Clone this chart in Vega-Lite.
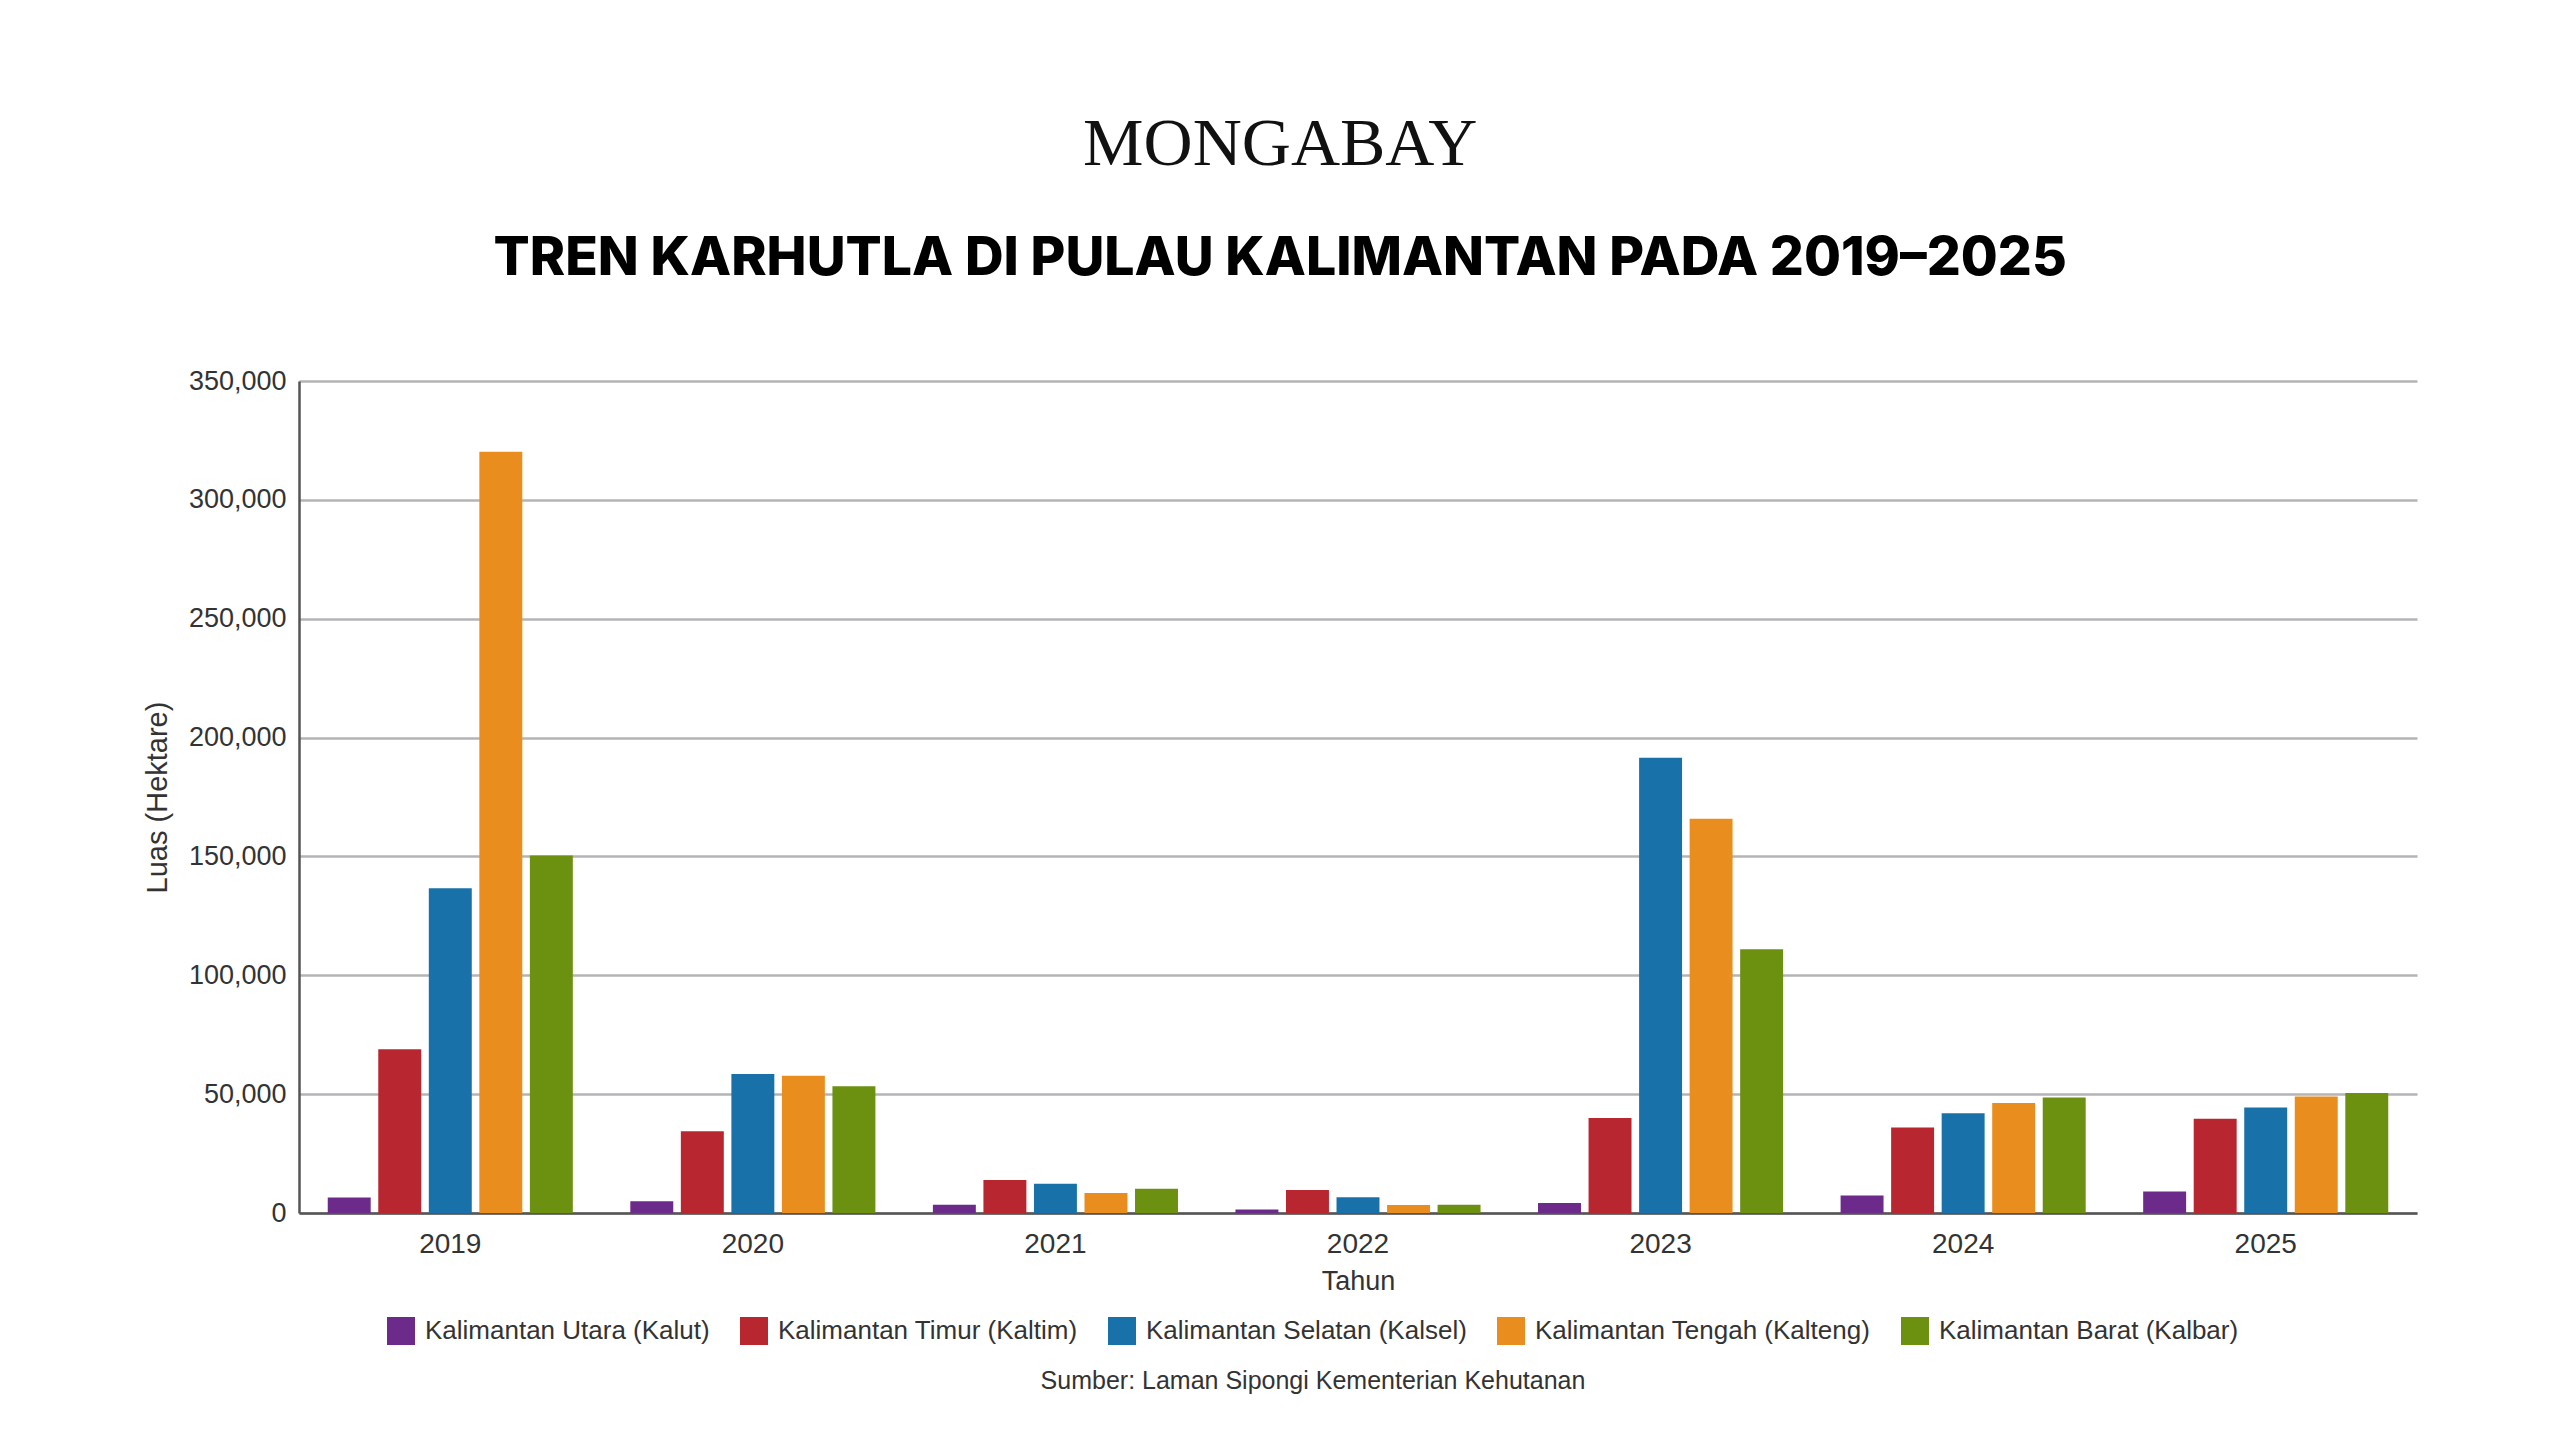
{
  "$schema": "https://vega.github.io/schema/vega-lite/v6.json",
  "background": "white",
  "autosize": {"type": "none"},
  "padding": {"left": 299, "top": 381, "right": 143, "bottom": 227},
  "width": 2118,
  "height": 832,
  "title": {
    "text": "MONGABAY",
    "subtitle": "TREN KARHUTLA DI PULAU KALIMANTAN PADA 2019–2025",
    "frame": "bounds",
    "anchor": "middle",
    "font": "Liberation Serif",
    "fontSize": 68,
    "fontWeight": "normal",
    "color": "#111111",
    "subtitleFont": "Inter",
    "subtitleFontSize": 53.5,
    "subtitleFontWeight": 800,
    "subtitleColor": "#000000",
    "subtitlePadding": 54,
    "offset": 82
  },
  "data": {
    "values": [
      {"year": "2019", "region": "Kalimantan Utara (Kalut)", "luas": 6500},
      {"year": "2019", "region": "Kalimantan Timur (Kaltim)", "luas": 68900},
      {"year": "2019", "region": "Kalimantan Selatan (Kalsel)", "luas": 136600},
      {"year": "2019", "region": "Kalimantan Tengah (Kalteng)", "luas": 320200},
      {"year": "2019", "region": "Kalimantan Barat (Kalbar)", "luas": 150400},
      {"year": "2020", "region": "Kalimantan Utara (Kalut)", "luas": 4900},
      {"year": "2020", "region": "Kalimantan Timur (Kaltim)", "luas": 34400},
      {"year": "2020", "region": "Kalimantan Selatan (Kalsel)", "luas": 58500},
      {"year": "2020", "region": "Kalimantan Tengah (Kalteng)", "luas": 57700},
      {"year": "2020", "region": "Kalimantan Barat (Kalbar)", "luas": 53300},
      {"year": "2021", "region": "Kalimantan Utara (Kalut)", "luas": 3500},
      {"year": "2021", "region": "Kalimantan Timur (Kaltim)", "luas": 13900},
      {"year": "2021", "region": "Kalimantan Selatan (Kalsel)", "luas": 12300},
      {"year": "2021", "region": "Kalimantan Tengah (Kalteng)", "luas": 8400},
      {"year": "2021", "region": "Kalimantan Barat (Kalbar)", "luas": 10200},
      {"year": "2022", "region": "Kalimantan Utara (Kalut)", "luas": 1500},
      {"year": "2022", "region": "Kalimantan Timur (Kaltim)", "luas": 9700},
      {"year": "2022", "region": "Kalimantan Selatan (Kalsel)", "luas": 6600},
      {"year": "2022", "region": "Kalimantan Tengah (Kalteng)", "luas": 3400},
      {"year": "2022", "region": "Kalimantan Barat (Kalbar)", "luas": 3500},
      {"year": "2023", "region": "Kalimantan Utara (Kalut)", "luas": 4200},
      {"year": "2023", "region": "Kalimantan Timur (Kaltim)", "luas": 40000},
      {"year": "2023", "region": "Kalimantan Selatan (Kalsel)", "luas": 191500},
      {"year": "2023", "region": "Kalimantan Tengah (Kalteng)", "luas": 165800},
      {"year": "2023", "region": "Kalimantan Barat (Kalbar)", "luas": 110900},
      {"year": "2024", "region": "Kalimantan Utara (Kalut)", "luas": 7400},
      {"year": "2024", "region": "Kalimantan Timur (Kaltim)", "luas": 36000},
      {"year": "2024", "region": "Kalimantan Selatan (Kalsel)", "luas": 42000},
      {"year": "2024", "region": "Kalimantan Tengah (Kalteng)", "luas": 46300},
      {"year": "2024", "region": "Kalimantan Barat (Kalbar)", "luas": 48600},
      {"year": "2025", "region": "Kalimantan Utara (Kalut)", "luas": 9000},
      {"year": "2025", "region": "Kalimantan Timur (Kaltim)", "luas": 39700},
      {"year": "2025", "region": "Kalimantan Selatan (Kalsel)", "luas": 44400},
      {"year": "2025", "region": "Kalimantan Tengah (Kalteng)", "luas": 49000},
      {"year": "2025", "region": "Kalimantan Barat (Kalbar)", "luas": 50500}
    ]
  },
  "mark": {"type": "bar", "stroke": null},
  "encoding": {
    "x": {
      "field": "year",
      "type": "ordinal",
      "title": "Tahun",
      "scale": {"paddingInner": 0.19, "paddingOuter": 0.095},
      "axis": {
        "labelAngle": 0,
        "labelFont": "Liberation Sans",
        "labelFontSize": 28,
        "labelColor": "#333333",
        "labelPadding": 17,
        "ticks": false,
        "domainColor": "#555555",
        "domainWidth": 2.5,
        "titleFont": "Liberation Sans",
        "titleFontSize": 27,
        "titleFontWeight": "normal",
        "titleColor": "#333333",
        "titlePadding": 10
      }
    },
    "xOffset": {
      "field": "region",
      "type": "nominal",
      "scale": {
        "domain": [
          "Kalimantan Utara (Kalut)",
          "Kalimantan Timur (Kaltim)",
          "Kalimantan Selatan (Kalsel)",
          "Kalimantan Tengah (Kalteng)",
          "Kalimantan Barat (Kalbar)"
        ],
        "paddingInner": 0.15,
        "paddingOuter": 0
      }
    },
    "y": {
      "field": "luas",
      "type": "quantitative",
      "title": "Luas (Hektare)",
      "scale": {"domain": [0, 350000], "nice": false},
      "axis": {
        "values": [0, 50000, 100000, 150000, 200000, 250000, 300000, 350000],
        "format": ",d",
        "labelFont": "Liberation Sans",
        "labelFontSize": 27,
        "labelColor": "#333333",
        "labelPadding": 13,
        "ticks": false,
        "domainColor": "#555555",
        "domainWidth": 2.5,
        "gridColor": "#b4b4b8",
        "gridWidth": 2.5,
        "titleFont": "Liberation Sans",
        "titleFontSize": 29,
        "titleFontWeight": "normal",
        "titleColor": "#333333",
        "titlePadding": 16
      }
    },
    "color": {
      "field": "region",
      "type": "nominal",
      "scale": {
        "domain": [
          "Kalimantan Utara (Kalut)",
          "Kalimantan Timur (Kaltim)",
          "Kalimantan Selatan (Kalsel)",
          "Kalimantan Tengah (Kalteng)",
          "Kalimantan Barat (Kalbar)"
        ],
        "range": ["#6c2a8a", "#b8262f", "#1872a9", "#e98e1e", "#6c9010"]
      },
      "legend": {
        "title": "Sumber: Laman Sipongi Kementerian Kehutanan",
        "titleOrient": "bottom",
        "titleAnchor": "middle",
        "titleAlign": "center",
        "titleFont": "Liberation Sans",
        "titleFontSize": 25,
        "titleFontWeight": "normal",
        "titleColor": "#333333",
        "titlePadding": 24,
        "titleLimit": 2000,
        "orient": "none",
        "legendX": 88,
        "legendY": 936,
        "direction": "horizontal",
        "symbolType": "square",
        "symbolSize": 784,
        "symbolStrokeWidth": 0,
        "labelFont": "Liberation Sans",
        "labelFontSize": 26,
        "labelColor": "#333333",
        "labelOffset": 10,
        "columnPadding": 30,
        "labelLimit": 500
      }
    }
  },
  "config": {
    "view": {"stroke": null}
  }
}
